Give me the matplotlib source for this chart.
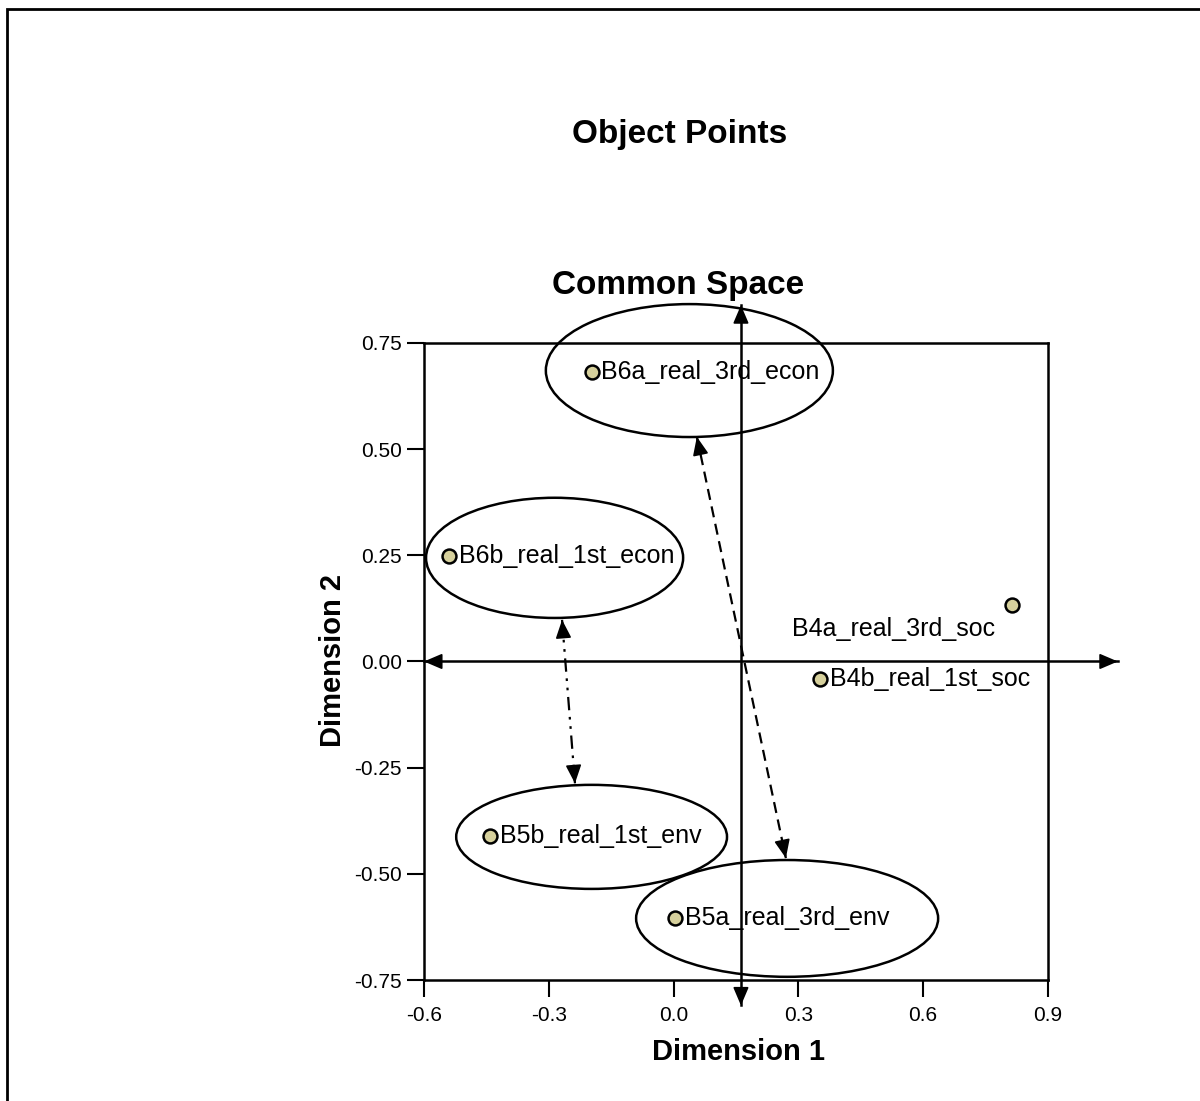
import matplotlib
matplotlib.use("Agg")
import matplotlib.pyplot as plt
from matplotlib.patches import Ellipse, Rectangle

plt.rcParams['font.family'] = ['Liberation Sans', 'DejaVu Sans']

# object points (Dimension 1, Dimension 2)
names = ['B6a_real_3rd_econ', 'B6b_real_1st_econ', 'B4a_real_3rd_soc',
         'B4b_real_1st_soc', 'B5b_real_1st_env', 'B5a_real_3rd_env']
dim1 = [-0.197, -0.539, 0.814, 0.352, -0.441, 0.003]
dim2 = [0.682, 0.248, 0.133, -0.041, -0.412, -0.605]
# label offsets in points
label_dx = [7, 7, -12, 7, 7, 7]
label_dy = [0, 0, -17, 0, 0, 0]
label_ha = ['left', 'left', 'right', 'left', 'left', 'left']

# groups drawn as ellipses: centre x, centre y, width, height
ell_x = [0.038, -0.286, -0.197, 0.273]
ell_y = [0.685, 0.244, -0.413, -0.605]
ell_w = [0.690, 0.618, 0.651, 0.726]
ell_h = [0.313, 0.283, 0.245, 0.275]

# reference cross through the space
cross_h = [-0.6, 1.068]
cross_v_x = 0.162
cross_v = [-0.81, 0.839]

# links between ellipses
dash_link = [(0.056, 0.529), (0.270, -0.463)]
dotdash_link = [(-0.268, 0.098), (-0.237, -0.287)]

xticks = [-0.6, -0.3, 0.0, 0.3, 0.6, 0.9]
yticks = [-0.75, -0.50, -0.25, 0.00, 0.25, 0.50, 0.75]

fig = plt.figure(figsize=(12, 11.01), dpi=100)
ax = fig.add_axes([0.3533, 0.1099, 0.52, 0.5786])
ax.set_xlim(-0.6, 0.9)
ax.set_ylim(-0.75, 0.75)

for cx, cy, w, h in zip(ell_x, ell_y, ell_w, ell_h):
    ax.add_patch(Ellipse((cx, cy), w, h, fill=False, edgecolor='black', lw=1.8,
                         zorder=2, clip_on=False))

head = dict(arrowstyle='-|>,head_length=0.75,head_width=0.32', color='black',
            lw=1.2, shrinkA=0, shrinkB=0, mutation_scale=15)


def arrow_line(p0, p1, **kw):
    ax.plot([p0[0], p1[0]], [p0[1], p1[1]], color='black', clip_on=False, zorder=3, **kw)
    for a, b in ((p0, p1), (p1, p0)):
        mx = b[0] + (a[0] - b[0]) * 0.02
        my = b[1] + (a[1] - b[1]) * 0.02
        ax.annotate('', xy=b, xytext=(mx, my), arrowprops=head,
                    annotation_clip=False, zorder=3)


arrow_line((cross_h[0], 0.0), (cross_h[1], 0.0), lw=1.8)
arrow_line((cross_v_x, cross_v[0]), (cross_v_x, cross_v[1]), lw=1.8)
arrow_line(dash_link[0], dash_link[1], lw=1.6, dashes=(5, 3))
arrow_line(dotdash_link[0], dotdash_link[1], lw=1.6, dashes=(6, 3, 1.2, 3, 1.2, 3))

ax.scatter(dim1, dim2, s=100, c='#d6d09c', edgecolors='black', linewidths=1.8,
           zorder=4, clip_on=False)
for n, x, y, dx, dy, ha in zip(names, dim1, dim2, label_dx, label_dy, label_ha):
    ax.annotate(n, (x, y), xytext=(dx, dy), textcoords='offset points',
                ha=ha, va='center', fontsize=18, zorder=5)

ax.set_xticks(xticks)
ax.set_xticklabels([f'{v:.1f}' for v in xticks])
ax.set_yticks(yticks)
ax.set_yticklabels([f'{v:.2f}' for v in yticks])
ax.tick_params(direction='out', length=12, width=1.5, labelsize=15, pad=4)
ax.tick_params(axis='x', pad=7)
for s in ax.spines.values():
    s.set_linewidth(1.8)

fig.text(0.5667, 0.8774, 'Object Points', ha='center', va='center',
         fontsize=24, fontweight='bold')
fig.text(0.565, 0.7411, 'Common Space', ha='center', va='center',
         fontsize=24, fontweight='bold')
fig.text(0.615, 0.0445, 'Dimension 1', ha='center', va='center',
         fontsize=21, fontweight='bold')
fig.text(0.2775, 0.4, 'Dimension 2', ha='center', va='center',
         fontsize=21, fontweight='bold', rotation=90)

fig.patches.append(Rectangle((0.0058, -0.2), 1.2, 0.9918 + 0.2, transform=fig.transFigure,
                             fill=False, edgecolor='black', lw=2))

fig.savefig('out.png', dpi=100, facecolor='white')
